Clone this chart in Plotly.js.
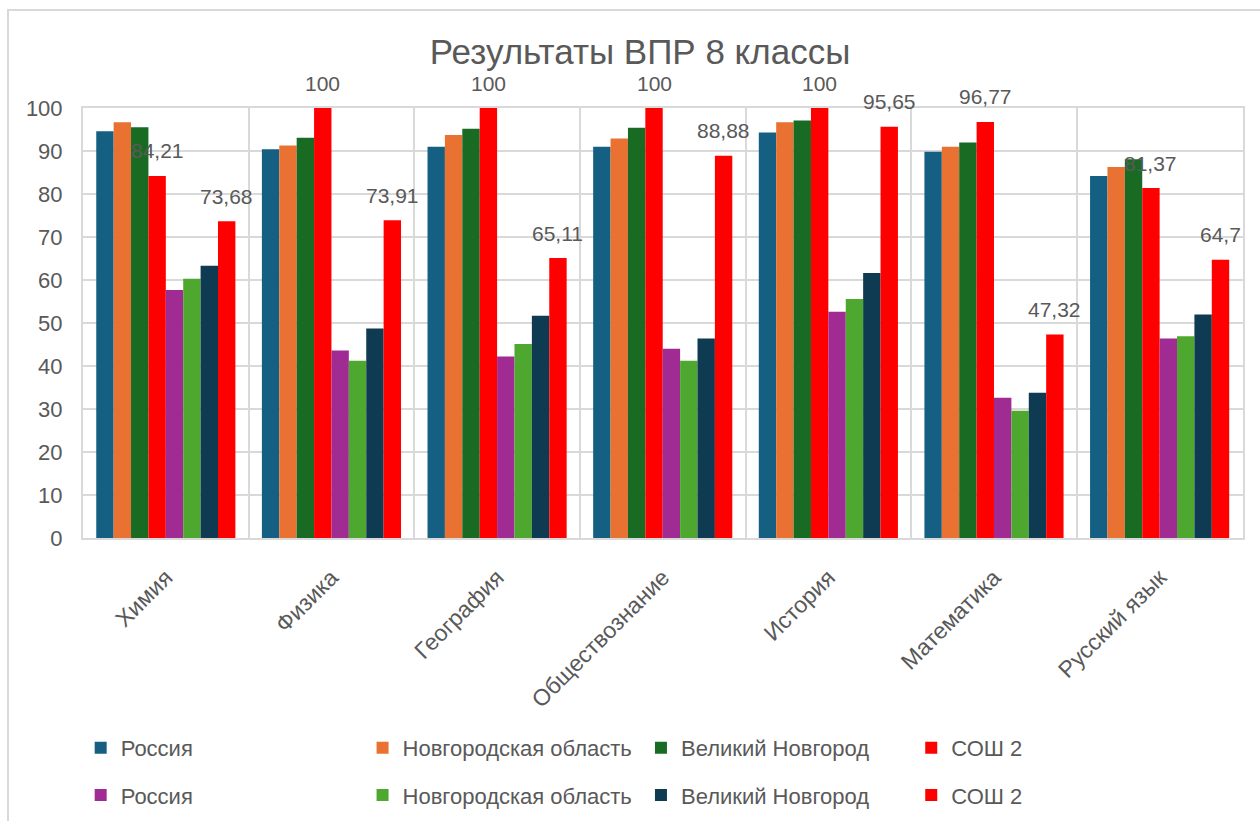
<!DOCTYPE html>
<html>
<head>
    <meta charset="utf-8">
    <script src="https://cdn.plot.ly/plotly-3.0.1.min.js"></script>
    <style>
        body { margin: 0; background: #fff; overflow: hidden; }
        #frame { position: absolute; left: 7px; top: 9px; width: 1300px; height: 900px;
                 border-left: 2px solid #d9d9d9; border-top: 2px solid #d9d9d9; pointer-events: none; }
        #cap { position: absolute; left: 4px; top: -17px; font: italic bold 22px "Liberation Serif", serif; color: #000; }
    </style>
</head>
<body>
    <div id="cap">8 класс</div>
    <div id="chart" style="width: 1260px; height: 821px;"></div>
    <div id="frame"></div>
    <script>
        // предметы
        var subjects = ['Химия', 'Физика', 'География', 'Обществознание', 'История', 'Математика', 'Русский язык'];

        // первая группа (верхние столбцы)
        var russia1 = [94.6, 90.4, 91.0, 91.0, 94.3, 89.8, 84.2];
        var region1 = [96.7, 91.3, 93.7, 92.9, 96.7, 91.0, 86.3];
        var city1 = [95.5, 93.1, 95.2, 95.4, 97.1, 92.0, 88.1];
        var school1 = [84.21, 100, 100, 100, 100, 96.77, 81.37];

        // вторая группа
        var russia2 = [57.7, 43.6, 42.2, 44.0, 52.6, 32.6, 46.4];
        var region2 = [60.3, 41.2, 45.1, 41.2, 55.6, 29.6, 46.9];
        var city2 = [63.3, 48.7, 51.7, 46.4, 61.6, 33.8, 52.0];
        var school2 = [73.68, 73.91, 65.11, 88.88, 95.65, 47.32, 64.7];

        var seriesNames = ['Россия', 'Новгородская область', 'Великий Новгород', 'СОШ 2',
                           'Россия', 'Новгородская область', 'Великий Новгород', 'СОШ 2'];
        var seriesValues = [russia1, region1, city1, school1, russia2, region2, city2, school2];
        var seriesColors = ['#156082', '#e97132', '#196b24', '#ff0000',
                            '#a02b93', '#4ea72e', '#0e3a52', '#ff0000'];
        var labelled = [3, 7];

        // места легенды: столбец и строка
        var legendCols = [-0.002, 0.241, 0.481, 0.714];
        var legendRows = [-0.488, -0.598];

        var gray = '#595959';
        var font = 'Liberation Sans, Arial, sans-serif';
        var bargap = 0.16;

        var data = seriesValues.map(function (vals, k) {
            return {
                type: 'bar',
                name: seriesNames[k],
                x: subjects,
                y: vals,
                marker: { color: seriesColors[k] },
                legend: k === 0 ? 'legend' : 'legend' + (k + 1),
                hoverinfo: 'x+y+name'
            };
        });

        // подписи значений для СОШ 2
        var annotations = [];
        labelled.forEach(function (k) {
            seriesValues[k].forEach(function (v, i) {
                annotations.push({
                    x: i + (k - 3.5) * (1 - bargap) / 8,
                    y: v,
                    xref: 'x', yref: 'y',
                    text: String(v).replace('.', ','),
                    showarrow: false,
                    yanchor: 'middle',
                    yshift: 25,
                    font: { family: font, size: 21, color: gray }
                });
            });
        });

        var layout = {
            width: 1260,
            height: 821,
            margin: { l: 83, r: 17, t: 108, b: 283, autoexpand: false },
            paper_bgcolor: '#fff',
            plot_bgcolor: '#fff',
            barmode: 'group',
            bargap: bargap,
            bargroupgap: 0,
            title: {
                text: 'Результаты ВПР 8 классы',
                font: { family: font, size: 35, color: gray },
                x: 0.508, xanchor: 'center',
                y: 0.937, yanchor: 'middle'
            },
            xaxis: {
                type: 'category',
                automargin: false,
                tickangle: -45,
                tickson: 'boundaries',
                ticks: '',
                showgrid: true,
                gridcolor: '#d9d9d9',
                gridwidth: 2,
                showline: true,
                linecolor: '#d9d9d9',
                linewidth: 2,
                mirror: true,
                ticklabelstandoff: 15,
                tickfont: { family: font, size: 23, color: gray }
            },
            yaxis: {
                range: [0, 100],
                automargin: false,
                dtick: 10,
                showgrid: true,
                gridcolor: '#d9d9d9',
                gridwidth: 2,
                zeroline: false,
                showline: true,
                linecolor: '#d9d9d9',
                linewidth: 2,
                mirror: true,
                ticks: '',
                ticklabelstandoff: 14,
                tickfont: { family: font, size: 22, color: gray }
            },
            showlegend: true,
            annotations: annotations
        };

        // по одной легенде на каждую позицию
        seriesNames.forEach(function (n, k) {
            var key = k === 0 ? 'legend' : 'legend' + (k + 1);
            layout[key] = {
                orientation: 'h',
                itemclick: false,
                font: { family: font, size: 22, color: gray },
                xanchor: 'left',
                yanchor: 'middle',
                x: legendCols[k % 4],
                y: legendRows[Math.floor(k / 4)],
                itemwidth: 30,
                bgcolor: 'rgba(0,0,0,0)'
            };
        });

        var config = { displayModeBar: false };

        Plotly.newPlot('chart', data, layout, config);
    </script>
</body>
</html>
